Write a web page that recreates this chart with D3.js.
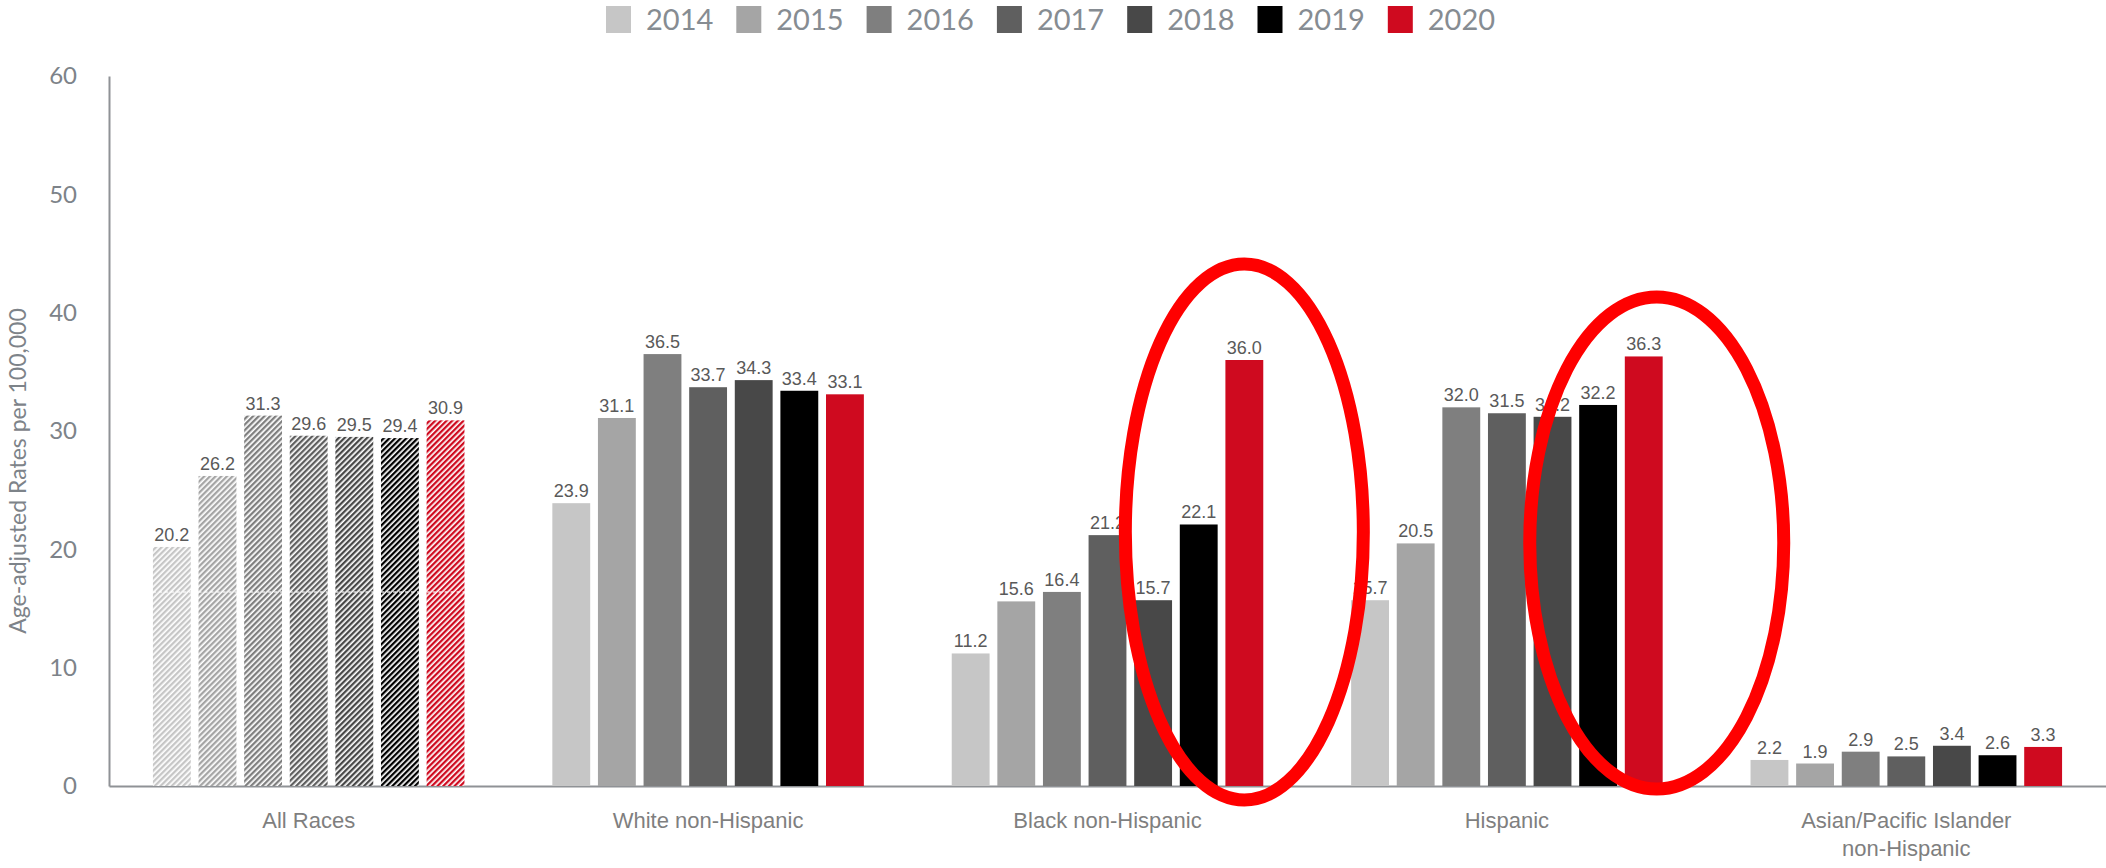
<!DOCTYPE html>
<html>
<head>
<meta charset="utf-8">
<script src="https://cdn.jsdelivr.net/npm/d3@7"></script>
<style>
  html, body { margin: 0; padding: 0; background: #ffffff; }
  svg { display: block; }
</style>
</head>
<body>
<svg id="chart" width="2106" height="868"></svg>
<script>
// Age-adjusted rates per 100,000 by race/ethnicity, 2014–2020
const categories = ["All Races", "White non-Hispanic", "Black non-Hispanic", "Hispanic", "Asian/Pacific Islander non-Hispanic"];
const categoryLines = [["All Races"], ["White non-Hispanic"], ["Black non-Hispanic"], ["Hispanic"], ["Asian/Pacific Islander", "non-Hispanic"]];
const years = ["2014", "2015", "2016", "2017", "2018", "2019", "2020"];
const allRaces = [20.2, 26.2, 31.3, 29.6, 29.5, 29.4, 30.9];
const whiteNH  = [23.9, 31.1, 36.5, 33.7, 34.3, 33.4, 33.1];
const blackNH  = [11.2, 15.6, 16.4, 21.2, 15.7, 22.1, 36.0];
const hispanic = [15.7, 20.5, 32.0, 31.5, 31.2, 32.2, 36.3];
const asianPI  = [2.2, 1.9, 2.9, 2.5, 3.4, 2.6, 3.3];
const yTicks = [0, 10, 20, 30, 40, 50, 60];
const yearColors = ["#c6c6c6", "#a5a5a5", "#7f7f7f", "#5f5f5f", "#484848", "#000000", "#cf0a1f"];
// groups whose 2019–2020 change is ringed
const highlighted = ["Black non-Hispanic", "Hispanic"];

const seriesByCategory = [allRaces, whiteNH, blackNH, hispanic, asianPI];

const svg = d3.select("#chart");
const W = 2106, H = 868;
const plot = { left: 109, right: 2106, top: 76, bottom: 786 };

const y = d3.scaleLinear().domain([0, 60]).range([plot.bottom, plot.top]);
const x0 = d3.scaleBand().domain(categories).range([plot.left, plot.right])
  .paddingInner(0.22).paddingOuter(0.11);
const x1 = d3.scaleBand().domain(years).range([0, x0.bandwidth()])
  .paddingInner(0.17).paddingOuter(0);
const color = d3.scaleOrdinal().domain(years).range(yearColors);

// diagonal hatch patterns for the all-races group
const defs = svg.append("defs");
years.forEach((yr, i) => {
  const p = defs.append("pattern")
    .attr("id", "hatch-" + yr)
    .attr("patternUnits", "userSpaceOnUse")
    .attr("width", 4).attr("height", 4)
    .attr("patternTransform", "rotate(45)");
  p.append("rect").attr("width", 4).attr("height", 4).attr("fill", "#ffffff");
  p.append("rect").attr("x", 0).attr("width", 2.3).attr("height", 4).attr("fill", color(yr));
});

// axes
const axisColor = "#8f9296";
const yAxis = d3.axisLeft(y).tickValues(yTicks).tickSize(0).tickPadding(32).tickFormat(d3.format("d"));
const gy = svg.append("g").attr("transform", `translate(${plot.left},0)`).call(yAxis);
gy.select(".domain").attr("stroke", axisColor).attr("stroke-width", 2);
gy.selectAll("text")
  .attr("font-family", "Lato, 'Open Sans', sans-serif")
  .attr("font-size", 24).attr("fill", "#7d8389");

const xAxis = d3.axisBottom(x0).tickSize(0).tickFormat("");
const gx = svg.append("g").attr("transform", `translate(0,${plot.bottom})`).call(xAxis);
gx.select(".domain").attr("stroke", axisColor).attr("stroke-width", 2);

// category labels
const catLabels = svg.append("g");
categories.forEach((c, ci) => {
  const t = catLabels.append("text")
    .attr("x", x0(c) + x0.bandwidth() / 2)
    .attr("y", 828)
    .attr("text-anchor", "middle")
    .attr("font-family", "'Liberation Sans', Arial, sans-serif")
    .attr("font-size", 22).attr("fill", "#7f7f7f");
  categoryLines[ci].forEach((line, li) => {
    t.append("tspan").attr("x", x0(c) + x0.bandwidth() / 2).attr("dy", li === 0 ? 0 : 28).text(line);
  });
});

// y axis title
svg.append("text")
  .attr("transform", `translate(26,${(plot.top + plot.bottom) / 2 + 40}) rotate(-90)`)
  .attr("text-anchor", "middle")
  .attr("font-family", "Lato, 'Open Sans', sans-serif")
  .attr("font-size", 23).attr("fill", "#7d8389")
  .text("Age-adjusted Rates per 100,000");

// bars
const groups = svg.append("g").selectAll("g")
  .data(categories.map((c, ci) => ({ c, values: seriesByCategory[ci] })))
  .join("g")
  .attr("transform", d => `translate(${x0(d.c)},0)`);

groups.selectAll("rect")
  .data(d => years.map((yr, i) => ({ c: d.c, yr, v: d.values[i] })))
  .join("rect")
  .attr("x", d => x1(d.yr))
  .attr("y", d => y(d.v))
  .attr("width", x1.bandwidth())
  .attr("height", d => y(0) - y(d.v))
  .attr("fill", d => d.c === "All Races" ? `url(#hatch-${d.yr})` : color(d.yr));

// faint dotted seam running across the hatched bars
const allG = groups.filter(d => d.c === "All Races");
allG.selectAll("line.seam")
  .data(years)
  .join("line")
  .attr("class", "seam")
  .attr("x1", d => x1(d)).attr("x2", d => x1(d) + x1.bandwidth())
  .attr("y1", y(16.4)).attr("y2", y(16.4))
  .attr("stroke", "#ffffff").attr("stroke-width", 1.5)
  .attr("stroke-dasharray", "3,3").attr("opacity", 0.8);

// value labels
groups.selectAll("text.val")
  .data(d => years.map((yr, i) => ({ yr, v: d.values[i] })))
  .join("text")
  .attr("class", "val")
  .attr("x", d => x1(d.yr) + x1.bandwidth() / 2)
  .attr("y", d => y(d.v) - 6)
  .attr("text-anchor", "middle")
  .attr("font-family", "'Liberation Sans', Arial, sans-serif")
  .attr("font-size", 18).attr("fill", "#595959")
  .text(d => d3.format(".1f")(d.v));

// legend
const legend = svg.append("g").attr("transform", "translate(606,0)");
const legendStep = 130.3;
const li = legend.selectAll("g").data(years).join("g")
  .attr("transform", (d, i) => `translate(${i * legendStep},0)`);
li.append("rect").attr("x", 0).attr("y", 6).attr("width", 25).attr("height", 27).attr("fill", d => color(d));
li.append("text").attr("x", 40).attr("y", 30)
  .attr("font-family", "Lato, 'Open Sans', sans-serif")
  .attr("font-size", 29).attr("fill", "#868c92")
  .text(d => d);

// ring around the 2020 bar of the highlighted groups
const rings = [
  { c: highlighted[0], dx: 0, cy: 532, rx: 119, ry: 268 },
  { c: highlighted[1], dx: 13, cy: 543, rx: 127, ry: 246 }
];
svg.append("g").selectAll("ellipse").data(rings).join("ellipse")
  .attr("cx", d => x0(d.c) + x1("2020") + x1.bandwidth() / 2 + d.dx)
  .attr("cy", d => d.cy)
  .attr("rx", d => d.rx).attr("ry", d => d.ry)
  .attr("fill", "none").attr("stroke", "#ff0000").attr("stroke-width", 13);
</script>
</body>
</html>
